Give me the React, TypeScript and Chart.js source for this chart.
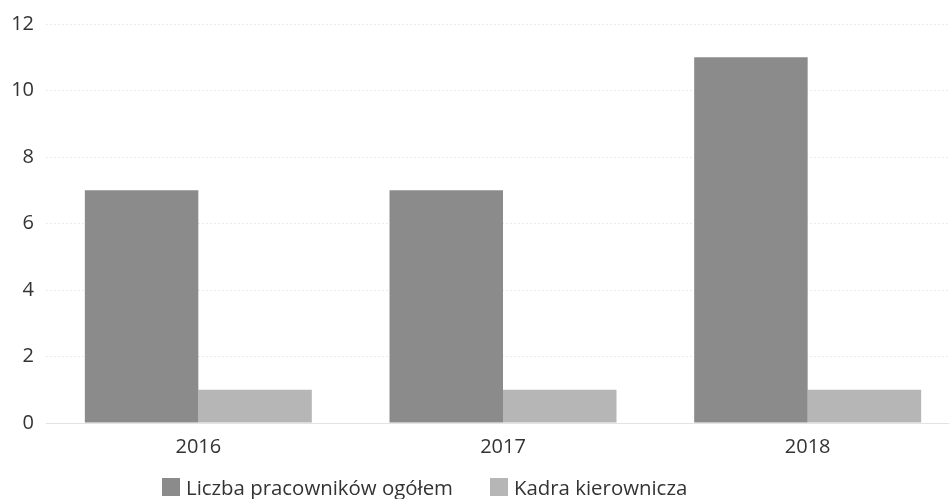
import React, { useEffect, useRef } from "react";
import { Chart, registerables } from "chart.js";

Chart.register(...registerables);

const categories = ["2016", "2017", "2018"];
const seriesNames = ["Liczba pracowników ogółem", "Kadra kierownicza"];
const totalEmployees = [7, 7, 11];
const managers = [1, 1, 1];
const yTicks = [0, 2, 4, 6, 8, 10, 12];
const seriesColors = ["#8b8b8b", "#b6b6b6"];

const FONT = "'Open Sans', 'Noto Sans', sans-serif";

export default function App() {
  const ref = useRef<HTMLCanvasElement | null>(null);
  useEffect(() => {
    if (!ref.current) return;
    const font = { family: FONT, size: 20 };
    const chart = new Chart(ref.current, {
      type: "bar",
      data: {
        labels: categories,
        datasets: [
          {
            label: seriesNames[0],
            data: totalEmployees,
            backgroundColor: seriesColors[0],
            categoryPercentage: 0.745,
            barPercentage: 1,
          },
          {
            label: seriesNames[1],
            data: managers,
            backgroundColor: seriesColors[1],
            categoryPercentage: 0.745,
            barPercentage: 1,
          },
        ],
      },
      options: {
        responsive: false,
        animation: false,
        layout: { padding: { top: 9, right: 0, left: 0, bottom: 0 } },
        plugins: {
          legend: { display: false },
          tooltip: { enabled: false },
        },
        scales: {
          x: {
            grid: { display: false },
            border: { display: true, color: "#e3e3e3" },
            ticks: { font, color: "#333", padding: 4 },
            afterFit: (s: any) => {
              s.height = 76;
            },
          },
          y: {
            min: 0,
            max: 12,
            afterBuildTicks: (s: any) => {
              s.ticks = yTicks.map((v) => ({ value: v }));
            },
            afterFit: (s: any) => {
              s.width = 46;
            },
            grid: { color: "#ebebeb", drawTicks: false },
            border: { display: false, dash: [2, 2] },
            ticks: { font, color: "#333", padding: 12 },
          },
        },
      },
    });
    return () => chart.destroy();
  }, []);
  return (
    <div style={{ position: "absolute", left: 0, top: 0, width: 949, height: 499, overflow: "hidden", background: "#fff" }}>
      <canvas ref={ref} width={960} height={499} style={{ display: "block" }} />
      <div
        style={{
          position: "absolute",
          left: 162,
          top: 474,
          display: "flex",
          alignItems: "center",
          fontFamily: FONT,
          fontSize: 20.4,
          color: "#333",
          lineHeight: "26px",
          whiteSpace: "nowrap",
        }}
      >
        {seriesNames.map((name, i) => (
          <div key={name} style={{ display: "flex", alignItems: "center", marginRight: 37 }}>
            <span style={{ display: "inline-block", width: 18, height: 18, background: seriesColors[i], marginRight: 6 }} />
            <span>{name}</span>
          </div>
        ))}
      </div>
    </div>
  );
}
